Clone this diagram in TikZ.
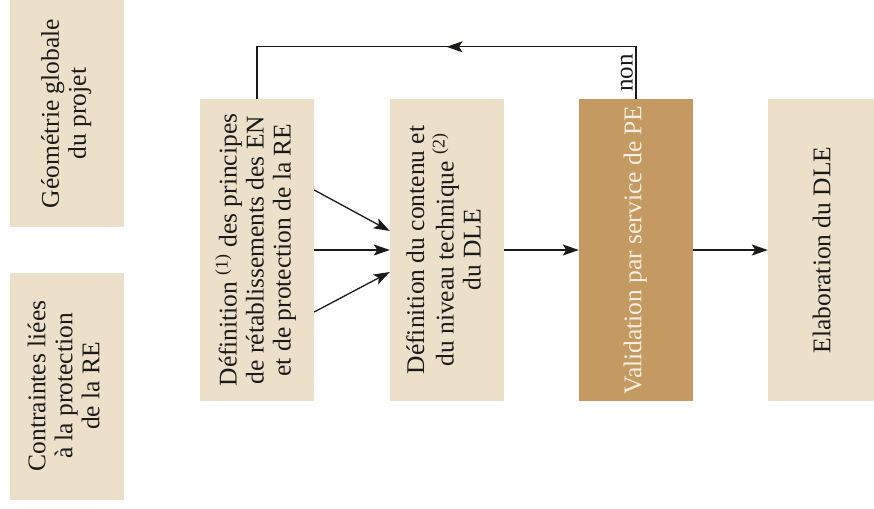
\documentclass[tikz,border=0pt]{standalone}
\usepackage{fontspec}
\setmainfont{Liberation Serif}
\usetikzlibrary{arrows.meta,decorations.markings}

\definecolor{beige}{RGB}{237,224,203}
\definecolor{ochre}{RGB}{196,154,98}
\definecolor{ink}{RGB}{28,26,24}
\definecolor{paper}{RGB}{246,238,224}

% rotated, centred multi-line label
\newcommand{\vlabel}[1]{\rotatebox{90}{\begin{tabular}{@{}c@{}}#1\end{tabular}}}

\begin{document}
\begin{tikzpicture}[x=1pt,y=-1pt,
  stepbox/.style={rectangle, fill=beige, inner sep=0pt,
    minimum width=114pt, minimum height=302pt, text=ink,
    font=\fontsize{25.5}{27}\selectfont},
  sidebox/.style={stepbox, minimum height=227pt},
  keybox/.style={stepbox, fill=ochre, text=paper},
  tip/.style={},
  arr/.style={draw=ink, line width=1.3pt, -{Stealth[length=16pt,width=11pt,inset=3.5pt]}},
  link/.style={draw=ink, line width=1.3pt},
  loopback/.style={link, postaction={decorate},
    decoration={markings, mark=at position 0.5 with {\arrow{Stealth[length=16pt,width=11pt,inset=3.5pt]}}}}
]
\useasboundingbox (0,0) rectangle (874,508);

% input boxes
\node[sidebox] (geo) at (67,113.5) {\vlabel{Géométrie globale\\du projet}};
\node[sidebox] (contr) at (67,386) {\vlabel{Contraintes liées\\à la protection\\de la RE}};

% main chain
\node[stepbox] (princ) at (257,250) {\vlabel{Définition \textsuperscript{(1)} des principes\\de rétablissements des EN\\et de protection de la RE}};
\node[stepbox] (cont) at (447,250) {\vlabel{Définition du contenu et\\du niveau technique \textsuperscript{(2)}\\du DLE}};
\node[keybox] (valid) at (636,250) {\vlabel{Validation par service de PE}};
\node[stepbox] (elab) at (825,250) {\vlabel{Elaboration du DLE}};

% converging arrows
\draw[arr] ([yshift=60pt]princ.east) -- ([yshift=19pt]cont.west);
\draw[arr] (princ.east) -- (cont.west);
\draw[arr] ([yshift=-62pt]princ.east) -- ([yshift=-22pt]cont.west);

\draw[arr] (cont.east) -- (valid.west);
\draw[arr] (valid.east) -- (elab.west);

% rejection loop
\draw[loopback] (valid.north) -- ++(0,-52) coordinate (turn) -| (princ.north);
\node[rotate=90, anchor=south, inner sep=3pt, text=ink, font=\fontsize{25}{27}\selectfont]
  (non) at ([yshift=26pt]valid.north) {non};
\end{tikzpicture}
\end{document}
